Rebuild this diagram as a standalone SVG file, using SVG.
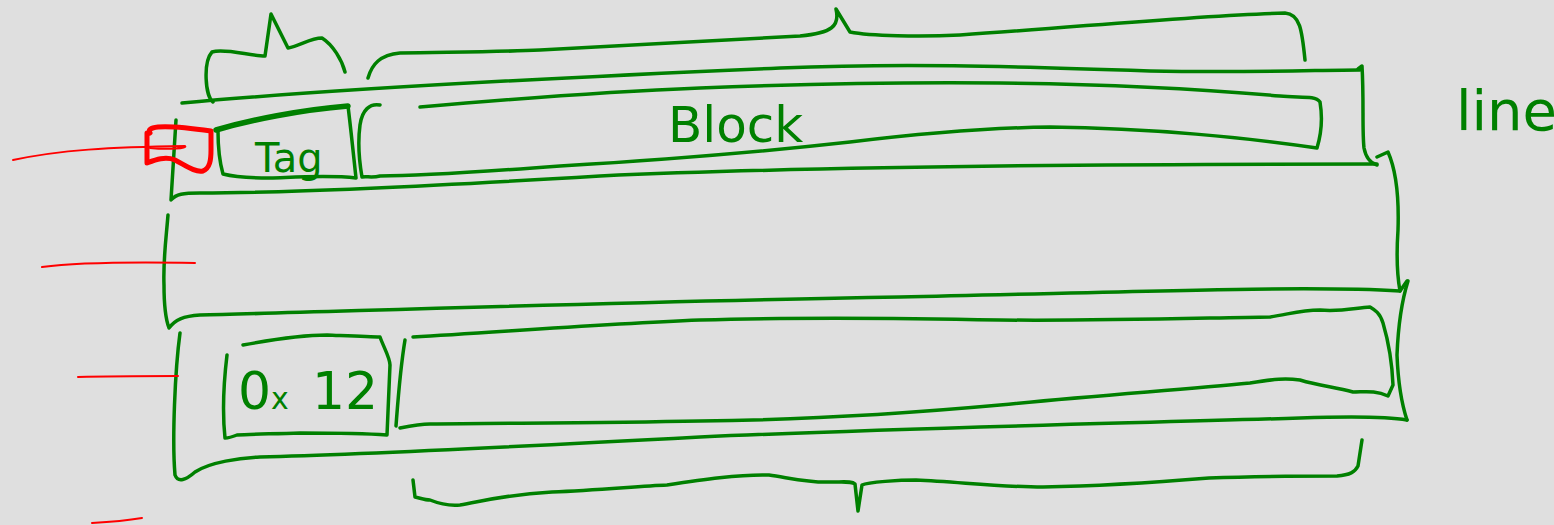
<svg xmlns="http://www.w3.org/2000/svg" width="1554" height="525" viewBox="0 0 1554 525">
<style>
.g{fill:none;stroke:#008000;stroke-width:3.5;stroke-linecap:round;stroke-linejoin:round}
.gt{fill:none;stroke:#008000;stroke-width:5.5;stroke-linecap:round;stroke-linejoin:round}
.r{fill:none;stroke:#ff0000;stroke-width:2;stroke-linecap:round;stroke-linejoin:round}
.rt{fill:none;stroke:#ff0000;stroke-width:5;stroke-linecap:round;stroke-linejoin:round}
.t{fill:#008000;font-family:"DejaVu Sans","Liberation Sans",sans-serif}
</style>
<rect width="1554" height="525" fill="#dfdfdf"/>
<g id="brace-tag">
<path class="g" d="M213,102 C205,96 203,62 212,52 C225,48 250,56 265,56 L271,14 L288,48 C300,46 310,38 322,38 C333,45 342,60 345,72"/>
</g>
<g id="brace-block">
<path class="g" d="M368,78 C372,64 380,55 400,53 C450,52 500,52 540,50 C620,46 720,40 800,36 C832,33 840,26 836,9 L850,32 C870,36 920,37 960,35 C1080,27 1200,15 1285,13 C1300,14 1302,30 1305,60"/>
</g>
<g id="line1">
<path class="g" d="M182,103 C300,92 500,80 780,68 C900,63 1000,66 1150,71 C1250,73 1320,70 1360,70"/>
<path class="g" d="M1358,69 L1362,66 C1364,100 1362,130 1364,148 C1366,158 1370,163 1377,165"/>
<path class="g" d="M176,120 C174,150 172,180 171,200 C176,194 183,193 200,193 C260,193 400,188 600,176 C800,167 1100,164 1377,164"/>
</g>
<g id="tag">
<path class="gt" d="M216,130 C250,120 300,110 348,106"/>
<path class="g" d="M348,106 C351,130 354,160 356,178 C330,175 300,177 270,178 C250,178 235,177 223,174 C219,160 218,145 218,131"/>
<text class="t" x="255" y="172" font-size="40">Tag</text>
</g>
<g id="block">
<path class="g" d="M420,107 C500,100 600,92 700,88 C800,84 900,82 1000,83 C1100,84 1200,89 1280,96 C1300,98 1315,95 1320,102 C1323,120 1321,135 1317,148 C1250,138 1150,128 1050,127 C970,128 900,136 850,142 C760,152 660,160 560,166 C480,172 420,176 380,176 C372,178 366,176 362,177 C359,160 358,140 360,125 C362,110 370,103 380,105"/>
<text class="t" x="668" y="142" font-size="50">Block</text>
</g>
<g id="line2">
<path class="g" d="M1377,157 L1388,152 C1396,170 1399,200 1398,230 C1396,260 1398,280 1400,291 L1407,281"/>
<path class="g" d="M168,215 C166,240 163,260 164,285 C164,305 166,320 169,328 C175,320 183,316 200,315 C300,313 600,302 900,297 C1100,293 1300,285 1400,291"/>
</g>
<g id="line3">
<path class="g" d="M1408,281 C1402,300 1398,330 1397,355 C1398,380 1402,405 1407,420"/>
<path class="g" d="M180,333 C175,370 172,440 175,475 C178,483 186,480 195,472 C210,462 240,458 260,457 C350,455 550,445 700,437 C900,428 1100,424 1300,418 C1360,416 1390,417 1407,420"/>
</g>
<g id="value">
<path class="g" d="M243,345 C270,340 300,335 327,335 C350,336 370,337 380,337 C384,348 390,358 390,365 C389,390 388,415 387,435 C360,433 330,433 300,433 C270,434 250,434 237,435 C232,437 228,438 225,438 C222,410 224,380 227,355"/>
<text class="t" x="238" y="409" font-size="52">0<tspan font-size="30">x</tspan><tspan x="312">12</tspan></text>
</g>
<g id="data">
<path class="g" d="M413,337 C500,332 600,324 700,320 C800,317 900,318 1000,320 C1100,321 1200,318 1270,317 C1290,314 1300,310 1320,310 C1340,312 1355,308 1370,307 C1375,310 1380,313 1383,323 C1388,340 1392,360 1393,385 L1388,396 C1375,390 1365,392 1353,392 C1335,387 1320,386 1300,380 C1285,378 1275,379 1250,383 C1180,390 1100,395 1000,405 C900,414 800,420 700,421 C600,423 500,423 430,424 C420,424 410,426 400,428"/>
<path class="g" d="M405,340 C400,370 398,400 396,426"/>
</g>
<g id="brace-bottom">
<path class="g" d="M413,480 L415,497 C420,498 425,500 430,500 C440,504 450,506 460,505 C480,502 500,495 552,492 C600,490 640,486 667,485 C700,480 740,474 769,475 C790,478 810,483 830,482 C845,482 852,481 855,484 L858,511 L862,485 C868,482 900,480 916,480 C960,482 1000,487 1043,487 C1100,486 1160,482 1209,478 C1260,476 1310,476 1337,476 C1350,475 1355,472 1358,466 L1362,440"/>
</g>
<g id="label-line">
<text class="t" x="1456" y="130" font-size="56">line</text>
</g>
<g id="connectors">
<path class="rt" d="M147,133 L147,163 C155,160 165,156 175,160 C185,165 195,173 203,171 C210,168 211,160 211,150 L211,131 C190,128 170,126 158,127 C150,128 148,130 150,133"/>
<path class="r" d="M13,160 C60,150 110,147 185,146 C188,148 170,150 150,148"/>
<path class="r" d="M42,267 C80,262 140,262 195,263"/>
<path class="r" d="M78,377 C110,376 150,376 178,376"/>
<path class="r" d="M92,523 C110,522 130,520 142,518"/>
</g>
</svg>
